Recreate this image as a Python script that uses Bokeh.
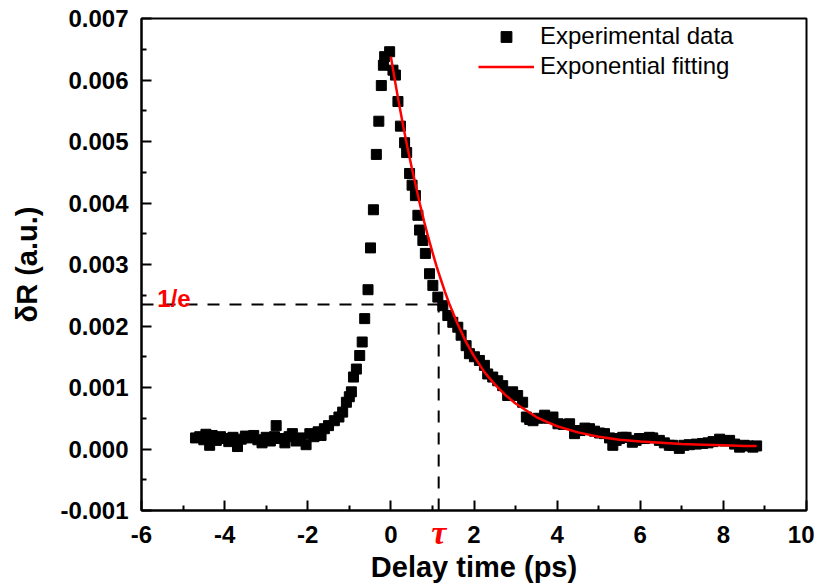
from bokeh.plotting import figure
from bokeh.models import (Range1d, FixedTicker, PrintfTickFormatter, Label, Legend, LegendItem,
                          LinearAxis, CustomJSTickFormatter)
from bokeh.embed import file_html
from bokeh.resources import INLINE

# ---------------- data ----------------
delay_ps = [
    -4.70, -4.60, -4.50, -4.45, -4.36, -4.30, -4.20, -4.10, -4.00, -3.90,
    -3.80, -3.69, -3.60, -3.50, -3.40, -3.30, -3.20, -3.10, -3.00, -2.90,
    -2.80, -2.76, -2.65, -2.55, -2.45, -2.37, -2.28, -2.18, -2.04, -1.95,
    -1.85, -1.75, -1.68, -1.60, -1.50, -1.36, -1.25, -1.16, -1.07, -1.00,
    -0.95, -0.90, -0.83, -0.75, -0.69, -0.63, -0.55, -0.49, -0.42, -0.35,
    -0.29, -0.23, -0.18, -0.15, -0.03, 0.05, 0.11, 0.17, 0.23, 0.33,
    0.38, 0.45, 0.51, 0.59, 0.65, 0.69, 0.77, 0.83, 0.93, 1.01,
    1.13, 1.25, 1.37, 1.49, 1.61, 1.69, 1.81, 1.89, 2.01, 2.13,
    2.25, 2.33, 2.45, 2.57, 2.69, 2.81, 2.93, 3.05, 3.17, 3.26,
    3.34, 3.42, 3.55, 3.70, 3.80, 3.90, 4.02, 4.15, 4.30, 4.42,
    4.55, 4.67, 4.78, 4.90, 5.02, 5.14, 5.26, 5.34, 5.42, 5.50,
    5.58, 5.66, 5.81, 5.90, 5.98, 6.10, 6.22, 6.30, 6.46, 6.58,
    6.70, 6.78, 6.94, 7.05, 7.18, 7.35, 7.50, 7.63, 7.75, 7.91,
    8.03, 8.15, 8.27, 8.39, 8.50, 8.60, 8.71, 8.80,
]
dR = [
    0.00018, 0.00020, 0.00015, 0.00024, 0.00006, 0.00022, 0.00014, 0.00020, 0.00017, 0.00012,
    0.00019, 0.00004, 0.00016, 0.00021, 0.00018, 0.00022, 0.00015, 0.00010, 0.00019, 0.00013,
    0.00020, 0.00038, 0.00017, 0.00010, 0.00020, 0.00025, 0.00013, 0.00018, 0.00007, 0.00025,
    0.00020, 0.00028, 0.00022, 0.00033, 0.00038, 0.00046, 0.00052, 0.00060, 0.00076, 0.00085,
    0.00093, 0.00117, 0.00130, 0.00152, 0.00174, 0.00212, 0.00259, 0.00327, 0.00389, 0.00479,
    0.00533, 0.00591, 0.00624, 0.00638, 0.00646, 0.00616, 0.00608, 0.00565, 0.00525, 0.00498,
    0.00482, 0.00448, 0.00429, 0.00412, 0.00380, 0.00356, 0.00339, 0.00318, 0.00285, 0.00266,
    0.00247, 0.00233, 0.00217, 0.00206, 0.00198, 0.00185, 0.00168, 0.00155, 0.00150, 0.00144,
    0.00136, 0.00122, 0.00117, 0.00111, 0.00103, 0.00087, 0.00093, 0.00087, 0.00076, 0.00052,
    0.00048, 0.00046, 0.00050, 0.00055, 0.00050, 0.00052, 0.00041, 0.00040, 0.00041, 0.00025,
    0.00030, 0.00034, 0.00033, 0.00029, 0.00026, 0.00025, 0.00018, 0.00006, 0.00014, 0.00017,
    0.00019, 0.00019, 0.00011, 0.00014, 0.00017, 0.00017, 0.00019, 0.00018, 0.00014, 0.00010,
    0.00006, 0.00006, 0.00001, 0.00006, 0.00007, 0.00008, 0.00009, 0.00010, 0.00012, 0.00016,
    0.00013, 0.00014, 0.00008, 0.00003, 0.00006, 0.00005, 0.00003, 0.00005,
]

fit_t = [0.0, 0.1, 0.2, 0.3, 0.4, 0.5, 0.6, 0.7, 0.8, 0.9, 1.0, 1.1, 1.2, 1.3, 1.4,
         1.6, 1.8, 2.0, 2.25, 2.5, 2.75, 3.0, 3.25, 3.5, 3.75, 4.0, 4.5, 5.0, 5.5,
         6.0, 6.5, 7.0, 7.5, 8.0, 8.5, 8.8]
fit_dR = [0.00638, 0.00598, 0.00560, 0.00524, 0.00490, 0.00458, 0.00428, 0.00398, 0.00370,
          0.00344, 0.00320, 0.00297, 0.00276, 0.00256, 0.00237, 0.00204, 0.00175, 0.00151,
          0.00125, 0.00105, 0.00088, 0.00074, 0.00063, 0.00052, 0.00044, 0.00037, 0.00027,
          0.00020, 0.00015, 0.00012, 0.00010, 0.00008, 0.00007, 0.00006, 0.00005, 0.00005]

tau_ps = 1.15
one_over_e = 0.00235

x_major = [-6, -4, -2, 0, 2, 4, 6, 8, 10]
x_minor = [-5, -3, -1, 1, 3, 5, 7, 9]
y_major = [-0.001, 0.0, 0.001, 0.002, 0.003, 0.004, 0.005, 0.006, 0.007]
y_minor = [-0.0005, 0.0005, 0.0015, 0.0025, 0.0035, 0.0045, 0.0055, 0.0065]

FONT = "Liberation Sans"

p = figure(
    frame_width=665, frame_height=492,
    min_border_left=141, min_border_right=8, min_border_top=18, min_border_bottom=40,
    x_range=Range1d(-6, 10), y_range=Range1d(-0.001, 0.007),
    output_backend="svg", toolbar_location=None,
    background_fill_color="white", border_fill_color="white",
)
p.grid.visible = False
p.outline_line_color = "black"
p.outline_line_width = 2

# dashed guide lines (1/e and tau)
p.line([-6, tau_ps], [one_over_e, one_over_e], line_color="black", line_width=2, line_dash="12 10")
p.line([tau_ps, tau_ps], [-0.001, one_over_e], line_color="black", line_width=2, line_dash="12 10")

sc = p.scatter(delay_ps, dR, marker="square", size=10, fill_color="black", line_color="black")
ln = p.line(fit_t, fit_dR, line_color="red", line_width=2.5)

for ax in (p.xaxis[0], p.yaxis[0]):
    ax.axis_line_width = 2
    ax.major_tick_line_width = 2
    ax.minor_tick_line_width = 2
    ax.major_tick_in = 10
    ax.major_tick_out = 0
    ax.minor_tick_in = 5
    ax.minor_tick_out = 0
    ax.major_label_text_font = FONT
    ax.major_label_text_font_style = "bold"
    ax.major_label_text_font_size = "24px"
    ax.major_label_text_color = "black"
    ax.axis_label_text_font = FONT
    ax.axis_label_text_font_style = "bold"
    ax.axis_label_text_font_size = "29px"
    ax.axis_label_text_color = "black"

p.xaxis[0].ticker = FixedTicker(ticks=x_major, minor_ticks=x_minor)
p.yaxis[0].ticker = FixedTicker(ticks=y_major, minor_ticks=y_minor)
p.xaxis[0].formatter = PrintfTickFormatter(format="%d")
p.yaxis[0].formatter = PrintfTickFormatter(format="%.3f")
p.xaxis[0].major_label_standoff = 15
p.yaxis[0].major_label_standoff = 13
p.yaxis[0].axis_label = "δR (a.u.)"
p.yaxis[0].axis_label_standoff = 14

# second bottom axis carrying the red tau tick label and the axis title
tau_axis = LinearAxis(
    ticker=FixedTicker(ticks=[tau_ps], minor_ticks=[]),
    formatter=CustomJSTickFormatter(code="return 'τ'"),
    axis_line_color=None, major_tick_line_color=None, minor_tick_line_color=None,
    major_tick_in=0, major_tick_out=0,
    major_label_standoff=-32,
    major_label_text_color="red", major_label_text_font="Liberation Serif",
    major_label_text_font_style="bold italic", major_label_text_font_size="34px",
    axis_label="Delay time (ps)", axis_label_standoff=-3,
    axis_label_text_font=FONT, axis_label_text_font_style="bold",
    axis_label_text_font_size="29px", axis_label_text_color="black",
)
p.add_layout(tau_axis, "below")

# 1/e annotation
p.add_layout(Label(x=-5.62, y=0.00244, text="1/e", text_color="red", text_font=FONT,
                   text_font_style="bold", text_font_size="24px", text_baseline="alphabetic"))

legend = Legend(
    items=[LegendItem(label="Experimental data", renderers=[sc]),
           LegendItem(label="Exponential fitting", renderers=[ln])],
    location=(337, 430), border_line_color=None, background_fill_alpha=0,
    padding=0, margin=0, spacing=2, glyph_width=56, glyph_height=27, label_height=27,
    label_standoff=6, label_text_font=FONT, label_text_font_size="24px",
    label_text_color="black",
)
p.add_layout(legend)

open("out.html", "w").write(file_html(p, INLINE))
